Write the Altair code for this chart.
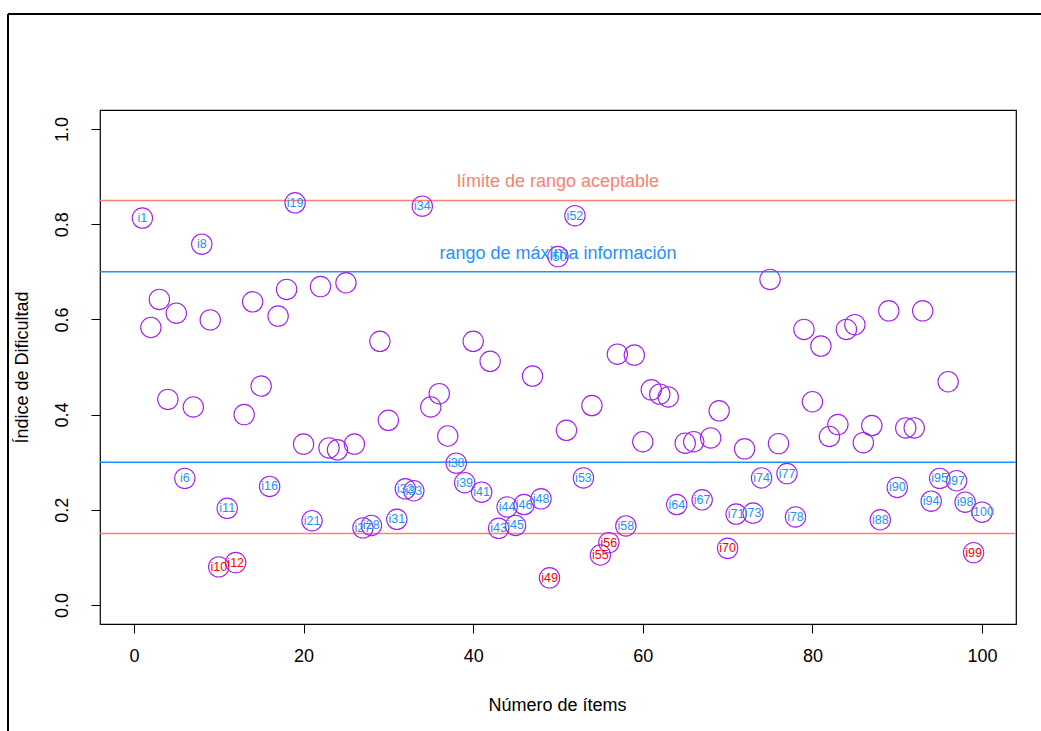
import altair as alt
import pandas as pd

# Difficulty index per item (items 1..100)
difficulty = [
    0.813, 0.583, 0.642, 0.432, 0.613, 0.266, 0.416, 0.758, 0.599, 0.080,
    0.203, 0.089, 0.400, 0.637, 0.460, 0.249, 0.607, 0.663, 0.845, 0.338,
    0.177, 0.669, 0.330, 0.326, 0.677, 0.338, 0.162, 0.167, 0.554, 0.388,
    0.180, 0.244, 0.240, 0.838, 0.416, 0.444, 0.355, 0.298, 0.257, 0.554,
    0.237, 0.512, 0.161, 0.206, 0.167, 0.211, 0.481, 0.223, 0.057, 0.732,
    0.367, 0.818, 0.267, 0.419, 0.105, 0.131, 0.527, 0.166, 0.525, 0.343,
    0.452, 0.443, 0.437, 0.211, 0.340, 0.343, 0.221, 0.351, 0.408, 0.119,
    0.191, 0.328, 0.193, 0.267, 0.684, 0.339, 0.276, 0.185, 0.579, 0.427,
    0.544, 0.354, 0.379, 0.579, 0.589, 0.341, 0.377, 0.179, 0.618, 0.247,
    0.372, 0.372, 0.618, 0.218, 0.266, 0.469, 0.261, 0.216, 0.110, 0.195,
]
items = list(range(1, len(difficulty) + 1))

acceptable_limits = [0.85, 0.15]
max_info_limits = [0.7, 0.3]

x_ticks = [0, 20, 40, 60, 80, 100]
y_ticks = [0.0, 0.2, 0.4, 0.6, 0.8, 1.0]

annot_text = ["límite de rango aceptable", "rango de máxima información"]
annot_x = [50, 50]
annot_y = [0.889, 0.737]

df = pd.DataFrame({"item": items, "value": difficulty})
df["label"] = ["i%d" % i if (v < 0.3 or v > 0.7) else "" for i, v in zip(items, difficulty)]
lab_df = df[df["label"] != ""]

FONT = "Liberation Sans"
PURPLE = "#A020F0"
BLUE = "#1E90FF"
SALMON = "#FA8072"

xscale = alt.Scale(domain=[-4, 104], nice=False, zero=False)
yscale = alt.Scale(domain=[-0.04, 1.04], nice=False, zero=False)

xaxis = alt.Axis(values=x_ticks, title="Número de ítems", grid=False, domain=False,
                 tickColor="black", tickSize=9, labelPadding=14, labelFontSize=18,
                 labelColor="black", labelFont=FONT, titleFont=FONT, titleFontSize=18,
                 titleFontWeight="normal", titleColor="black",
                 titleX=457, titleY=81, titleBaseline="middle", titleAlign="center",
                 labelFlush=False)
yaxis = alt.Axis(values=y_ticks, title="Índice de Dificultad", grid=False, domain=False,
                 tickColor="black", tickSize=9, labelPadding=20, labelFontSize=18,
                 labelColor="black", labelFont=FONT, labelAngle=270, labelAlign="center",
                 labelBaseline="bottom", format=".1f",
                 titleFont=FONT, titleFontSize=18, titleFontWeight="normal",
                 titleColor="black", titleX=-78, titleY=257, titleAngle=270,
                 titleBaseline="middle", titleAlign="center", labelFlush=False)

points = alt.Chart(df).mark_point(shape="circle", filled=False, color=PURPLE,
                                  size=415, strokeWidth=1.1, opacity=1).encode(
    x=alt.X("item:Q", scale=xscale, axis=xaxis),
    y=alt.Y("value:Q", scale=yscale, axis=yaxis),
)

labels = alt.Chart(lab_df).mark_text(font=FONT, fontSize=12.5, align="center",
                                     baseline="middle").encode(
    x=alt.X("item:Q", scale=xscale),
    y=alt.Y("value:Q", scale=yscale),
    text="label:N",
    color=alt.condition("datum.value < 0.15 || datum.value > 0.85",
                        alt.value("#FF0000"), alt.value(BLUE)),
)

rules_acc = alt.Chart(pd.DataFrame({"y": acceptable_limits})).mark_rule(
    color=SALMON, strokeWidth=1.5).encode(y=alt.Y("y:Q", scale=yscale))
rules_info = alt.Chart(pd.DataFrame({"y": max_info_limits})).mark_rule(
    color=BLUE, strokeWidth=1.5).encode(y=alt.Y("y:Q", scale=yscale))

annot_df = pd.DataFrame({"x": annot_x, "y": annot_y, "t": annot_text})
annots = alt.Chart(annot_df).mark_text(font=FONT, fontSize=18, align="center",
                                       baseline="middle").encode(
    x=alt.X("x:Q", scale=xscale),
    y=alt.Y("y:Q", scale=yscale),
    text="t:N",
    color=alt.Color("t:N", scale=alt.Scale(domain=annot_text, range=[SALMON, BLUE]),
                    legend=None),
)

# outer window frame (decorative)
frame_top = alt.Chart(pd.DataFrame({"a": [0]})).mark_rule(color="black", strokeWidth=2).encode(
    x=alt.value(-92), x2=alt.value(960), y=alt.value(-96))
frame_left = alt.Chart(pd.DataFrame({"a": [0]})).mark_rule(color="black", strokeWidth=2).encode(
    x=alt.value(-92), y=alt.value(-96), y2=alt.value(640))

chart = alt.layer(rules_acc, rules_info, annots, points, labels, frame_top, frame_left).properties(
    width=916, height=514,
    autosize=alt.AutoSizeParams(type="none"),
    padding={"left": 100, "top": 110, "right": 25, "bottom": 107},
    background="white",
).configure_view(stroke="black", strokeWidth=1.2)

chart.save("out.html", embed_options={"renderer": "svg", "actions": False})
